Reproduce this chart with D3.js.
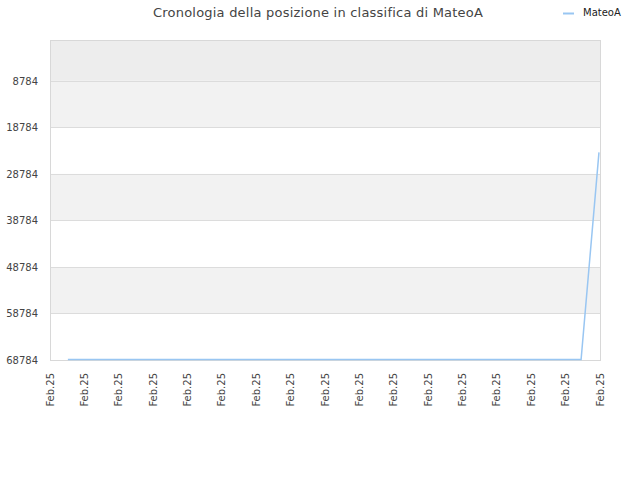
<!DOCTYPE html>
<html>
<head>
<meta charset="utf-8">
<script src="https://cdn.jsdelivr.net/npm/d3@7"></script>
<style>
  body { margin: 0; background: #fff; }
  text { font-family: "DejaVu Sans", sans-serif; }
</style>
</head>
<body>
<svg width="640" height="480"></svg>
<script>
// data
var xLabels = ['Feb.25', 'Feb.25', 'Feb.25', 'Feb.25', 'Feb.25', 'Feb.25', 'Feb.25', 'Feb.25', 'Feb.25',
  'Feb.25', 'Feb.25', 'Feb.25', 'Feb.25', 'Feb.25', 'Feb.25', 'Feb.25', 'Feb.25'];
var yTicks = [8784, 18784, 28784, 38784, 48784, 58784, 68784];
var pointPos = [0.52, 15.45, 15.97];
var ranks = [68784, 68784, 24270];
var seriesName = 'MateoA';

var svg = d3.select('svg');
var plotLeft = 50, plotRight = 600, plotTop = 40, plotBottom = 360;

var xScale = d3.scaleLinear().domain([0, xLabels.length - 1]).range([plotLeft, plotRight]);
var yScale = d3.scaleLinear().domain([0, 68784]).range([plotTop, plotBottom]);

// background bands
var bandEdges = [0].concat(yTicks);
var bandColors = ['#ededed', '#f2f2f2', '#ffffff', '#f2f2f2', '#ffffff', '#f2f2f2', '#ffffff'];
svg.selectAll('rect.band')
  .data(d3.pairs(bandEdges))
  .enter()
  .append('rect')
  .attr('x', plotLeft)
  .attr('width', plotRight - plotLeft)
  .attr('y', d => yScale(d[0]))
  .attr('height', d => yScale(d[1]) - yScale(d[0]))
  .attr('fill', (d, i) => bandColors[i]);

// grid lines
svg.selectAll('line.grid')
  .data(yTicks)
  .enter()
  .append('line')
  .attr('x1', plotLeft)
  .attr('x2', plotRight)
  .attr('y1', d => Math.round(yScale(d)) + 0.5)
  .attr('y2', d => Math.round(yScale(d)) + 0.5)
  .attr('stroke', '#dcdcdc');

// frame
svg.append('rect')
  .attr('x', plotLeft + 0.5)
  .attr('y', plotTop + 0.5)
  .attr('width', plotRight - plotLeft)
  .attr('height', plotBottom - plotTop)
  .attr('fill', 'none')
  .attr('stroke', '#d8d8d8');

// y axis labels
svg.append('g')
  .attr('transform', `translate(${plotLeft}, 0)`)
  .call(d3.axisLeft(yScale).tickValues(yTicks).tickSize(0).tickPadding(12).tickFormat(d3.format('d')))
  .call(g => g.select('.domain').remove())
  .selectAll('text')
  .attr('fill', '#444')
  .attr('font-size', '10px')
  .attr('font-family', 'DejaVu Sans, sans-serif');

// x axis labels
svg.append('g')
  .attr('transform', `translate(0, ${plotBottom})`)
  .call(d3.axisBottom(xScale).tickValues(d3.range(xLabels.length)).tickSize(0).tickFormat(i => xLabels[i]))
  .call(g => g.select('.domain').remove())
  .selectAll('text')
  .attr('fill', '#444')
  .attr('font-size', '10px')
  .attr('font-family', 'DejaVu Sans, sans-serif')
  .style('text-anchor', 'end')
  .attr('dx', '-13px')
  .attr('dy', '0.3em')
  .attr('y', 0)
  .attr('transform', 'rotate(-90)');

// series line
var line = d3.line()
  .x((d, i) => xScale(pointPos[i]))
  .y(d => yScale(d) - 0.5);

svg.append('path')
  .datum(ranks)
  .attr('d', line)
  .attr('fill', 'none')
  .attr('stroke', '#99c6f2')
  .attr('stroke-width', 1.5);

// title
svg.append('text')
  .attr('x', 318)
  .attr('y', 17)
  .attr('text-anchor', 'middle')
  .attr('font-size', '13px')
  .attr('letter-spacing', '0.22px')
  .attr('fill', '#444')
  .text('Cronologia della posizione in classifica di ' + seriesName);

// legend
svg.append('line')
  .attr('x1', 563).attr('x2', 574)
  .attr('y1', 13.5).attr('y2', 13.5)
  .attr('stroke', '#99c6f2')
  .attr('stroke-width', 2);
svg.append('text')
  .attr('x', 583)
  .attr('y', 16)
  .attr('font-size', '10px')
  .attr('fill', '#222')
  .text(seriesName);
</script>
</body>
</html>
